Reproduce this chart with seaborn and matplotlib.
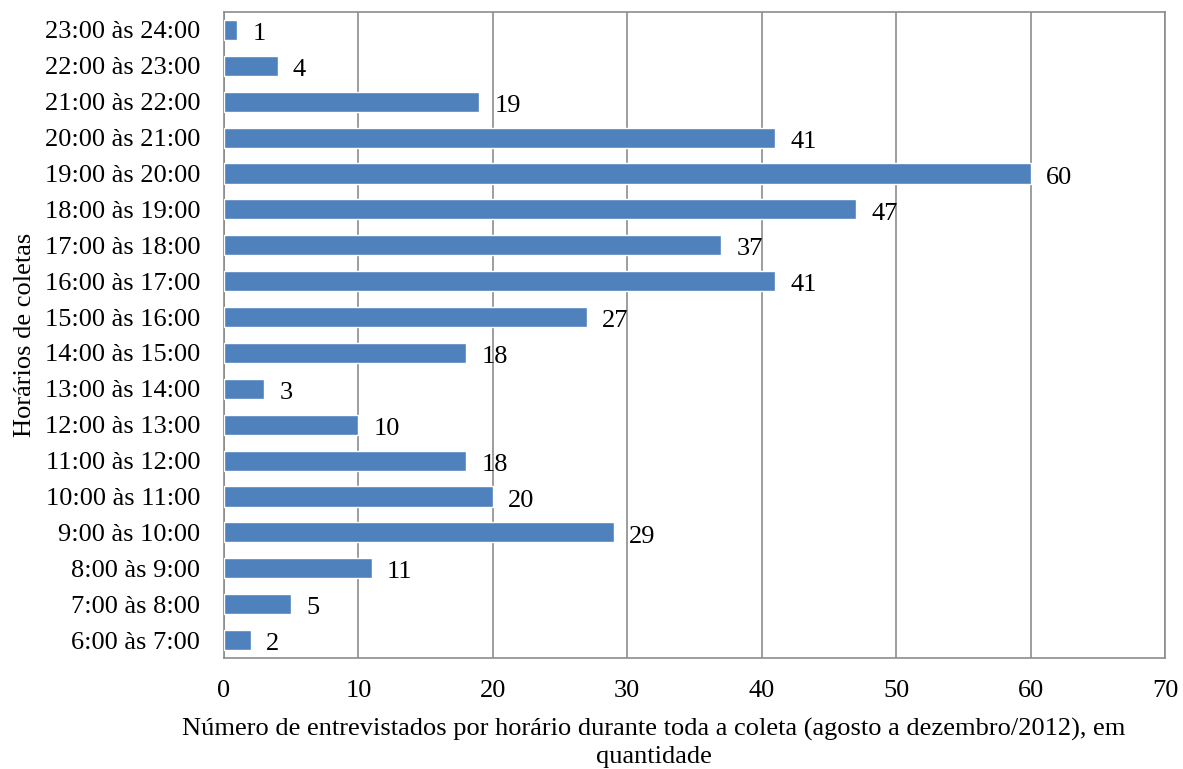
import pandas as pd
import seaborn as sns
import matplotlib.pyplot as plt

# Data
horarios = ["23:00 às 24:00", "22:00 às 23:00", "21:00 às 22:00", "20:00 às 21:00",
            "19:00 às 20:00", "18:00 às 19:00", "17:00 às 18:00", "16:00 às 17:00",
            "15:00 às 16:00", "14:00 às 15:00", "13:00 às 14:00", "12:00 às 13:00",
            "11:00 às 12:00", "10:00 às 11:00", "9:00 às 10:00", "8:00 às 9:00",
            "7:00 às 8:00", "6:00 às 7:00"]
entrevistados = [1, 4, 19, 41, 60, 47, 37, 41, 27, 18, 3, 10, 18, 20, 29, 11, 5, 2]

df = pd.DataFrame({"Horário": horarios, "Entrevistados": entrevistados})

sns.set_style("white", {"text.color": "black", "axes.labelcolor": "black",
                        "xtick.color": "black", "ytick.color": "black"})
plt.rcParams['font.family'] = ['Liberation Serif', 'DejaVu Serif']

fig = plt.figure(figsize=(11.83, 7.69), dpi=100)
ax = fig.add_axes([0.1893, 0.1443, 0.7955, 0.8401])

sns.barplot(data=df, x="Entrevistados", y="Horário", color="#4F81BD",
            saturation=1, width=0.56, ax=ax, zorder=3)

# value labels, slightly to the right and a bit below bar centre
for bar, val in zip(ax.patches, entrevistados):
    ax.annotate(str(val), (bar.get_width(), bar.get_y() + bar.get_height() / 2),
                xytext=(11, -3), textcoords="offset points",
                ha="left", va="center", fontsize=19, color="black")

ax.set_xlim(0, 70)
ax.set_xticks(range(0, 71, 10))
ax.grid(axis="x", color="#8c8c8c", linewidth=1.2, zorder=0)
for s in ax.spines.values():
    s.set_color("#8c8c8c")
    s.set_linewidth(1.2)
ax.tick_params(axis="both", length=0, labelsize=19, labelcolor="black")
ax.tick_params(axis="x", pad=16)
ax.tick_params(axis="y", pad=17)

ax.set_xlabel("")
ax.set_ylabel("Horários de coletas", fontsize=19, labelpad=6, color="black")
fig.text(654 / 1183, 1 - 743 / 769,
         "Número de entrevistados por horário durante toda a coleta (agosto a dezembro/2012), em\nquantidade",
         ha="center", va="center", fontsize=19, linespacing=1.3, color="black")

fig.savefig("out.png", dpi=100)
